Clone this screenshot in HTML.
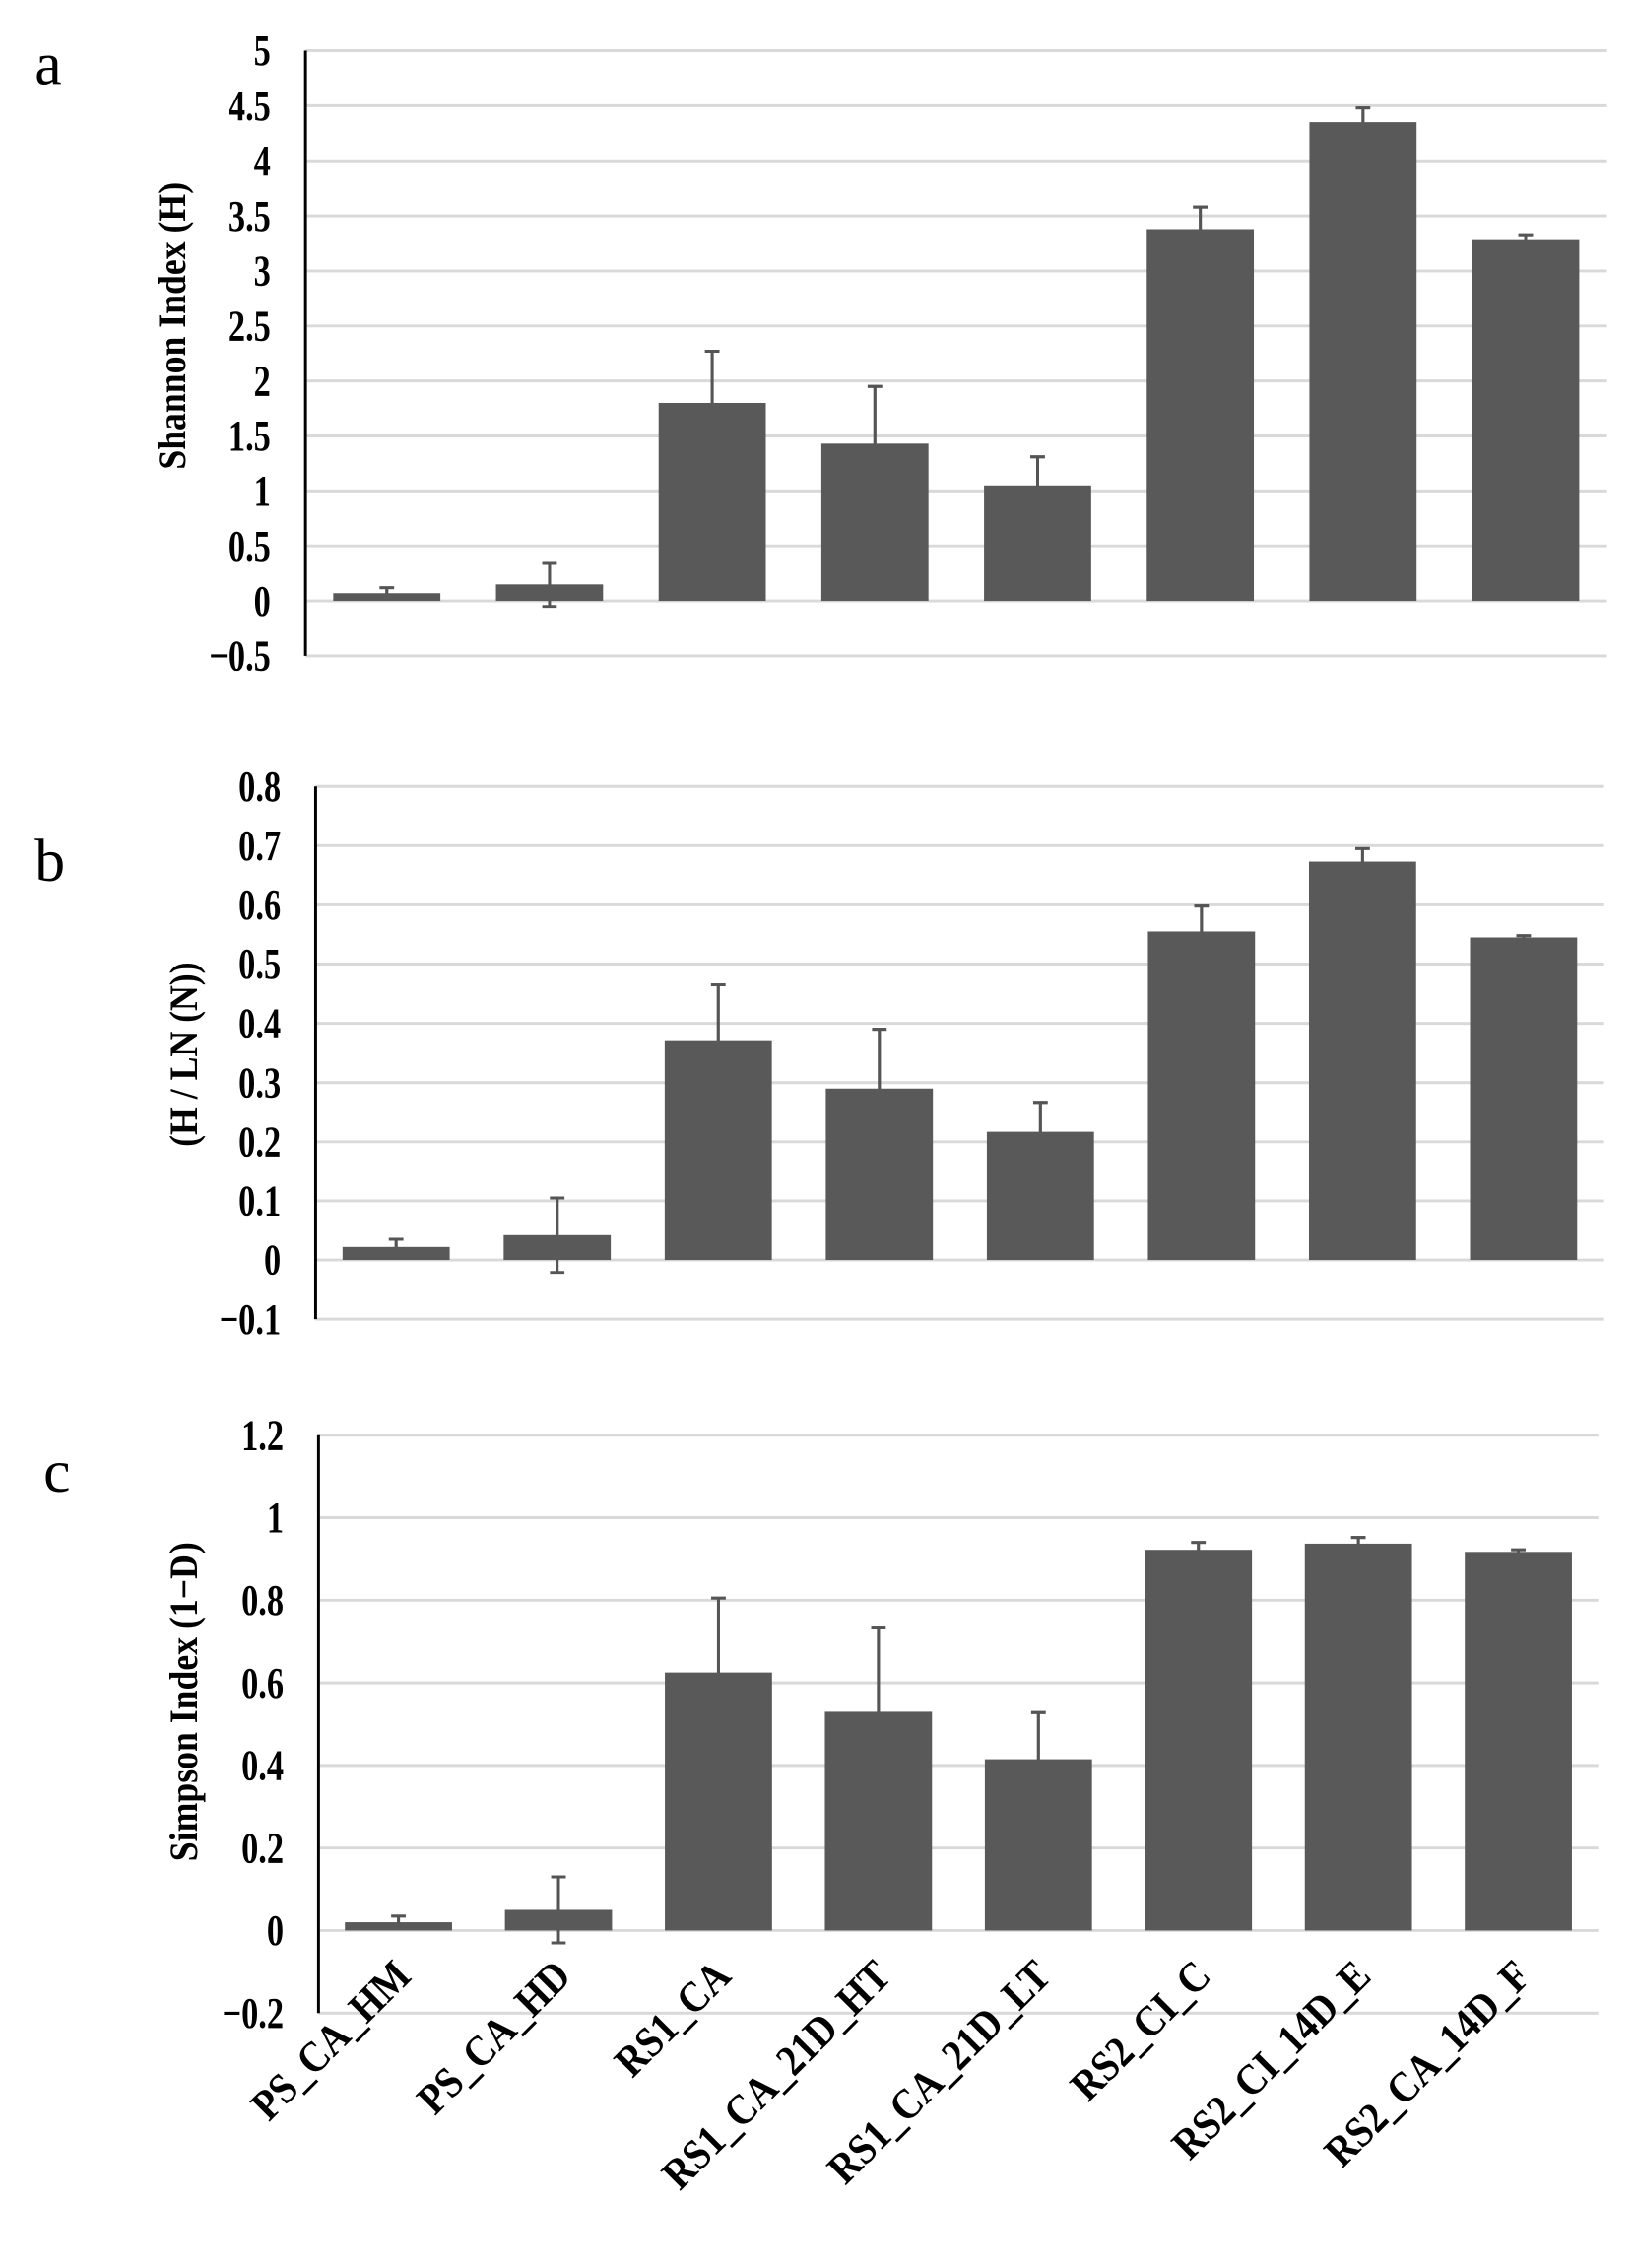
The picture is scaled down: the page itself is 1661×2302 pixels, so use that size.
<!DOCTYPE html>
<html><head><meta charset="utf-8"><style>
html,body{margin:0;padding:0;background:#fff}
svg{display:block}
text{font-family:"Liberation Serif",serif;font-weight:bold;fill:#000}
</style></head><body>
<svg id="fig" width="1661" height="2302" viewBox="0 0 1130 1566" xmlns="http://www.w3.org/2000/svg"></svg>
<script>
const categories = ["PS_CA_HM","PS_CA_HD","RS1_CA","RS1_CA_21D_HT","RS1_CA_21D_LT","RS2_CI_C","RS2_CI_14D_E","RS2_CA_14D_F"];
const shannonValues = [0.07,0.15,1.80,1.43,1.05,3.38,4.35,3.28];
const shannonErrors = [0.05,0.20,0.47,0.52,0.26,0.20,0.13,0.04];
const shannonTicks = [5,4.5,4,3.5,3,2.5,2,1.5,1,0.5,0,-0.5];
const evenValues = [0.022,0.042,0.370,0.290,0.217,0.555,0.673,0.545];
const evenErrors = [0.013,0.063,0.095,0.100,0.048,0.043,0.022,0.003];
const evenTicks = [0.8,0.7,0.6,0.5,0.4,0.3,0.2,0.1,0,-0.1];
const simpsonValues = [0.020,0.050,0.625,0.530,0.415,0.922,0.937,0.917];
const simpsonErrors = [0.015,0.080,0.180,0.205,0.113,0.018,0.015,0.005];
const simpsonTicks = [1.2,1,0.8,0.6,0.4,0.2,0,-0.2];

const svg = document.getElementById('fig');
const NS = 'http://www.w3.org/2000/svg';
function mk(tag, attrs, parent){const e=document.createElementNS(NS,tag);for(const k in attrs)e.setAttribute(k,attrs[k]);(parent||svg).appendChild(e);return e;}

function panel(cfg){
  const g = mk('g',{});
  
  
  const ymax=cfg.ticks[0], ymin=cfg.ticks[cfg.ticks.length-1];
  const y = v => cfg.yTop + (ymax - v)/(ymax - ymin)*(cfg.yBot - cfg.yTop);
  const x0=cfg.x0, x1=cfg.x1, step=(x1-x0)/categories.length;
  const xc = i => x0 + step*(i+0.5);
  cfg.ticks.forEach(t=>{
    const l=mk('line',{x1:x0,x2:x1,y1:y(t),y2:y(t),stroke:'#d9d9d9','stroke-width':2},g);
    
    
    const tx=mk('text',{x:0,y:0,'text-anchor':'end','font-size':30,transform:`translate(${x0-24},${y(t)+10}) scale(0.78,1)`},g);
    tx.textContent = (t<0?'\u2212'+Math.abs(t):String(t));
    
    
  });
  const ax=mk('line',{x1:x0,x2:x0,y1:cfg.yTop,y2:cfg.yBot,stroke:'#000','stroke-width':2},g);
  
  
  const bw=74;
  cfg.values.forEach((v,i)=>{
    const e=cfg.errors[i], cx=xc(i);
    const eb=mk('path',{d:`M${cx},${y(v+e)}V${y(v-e)}M${cx-5},${y(v+e)}H${cx+5}M${cx-5},${y(v-e)}H${cx+5}`,stroke:'#555','stroke-width':2,fill:'none'},g);
    
    
    const r=mk('rect',{x:cx-bw/2,y:Math.min(y(v),y(0)),width:bw,height:Math.abs(y(0)-y(v)),fill:'#595959'},g);
    
    
    const cap=mk('path',{d:`M${cx},${y(v+e)}V${y(v)}M${cx-5},${y(v+e)}H${cx+5}`,stroke:'#555','stroke-width':2},g);
    
    
  });
  const tt=mk('text',{x:0,y:0,'text-anchor':'middle','font-size':27,transform:`translate(${cfg.titleX},${cfg.titleY}) rotate(-90) scale(0.9,1)`},g);
  tt.textContent=cfg.title;
  
  
  const lt=mk('text',{x:cfg.letterX,y:cfg.letterY,'font-size':42,style:'font-weight:normal'},g);
  lt.textContent=cfg.letter;
  
  
  if(cfg.xlabels){
    categories.forEach((c,i)=>{
      const t=mk('text',{x:0,y:0,'text-anchor':'end','font-size':30,transform:`translate(${xc(i)+10},${cfg.yBot-24}) rotate(-45) scale(0.88,1)`},g);
      t.textContent=c;
      
      
    });
  }
}
panel({name:'panel-a-shannon',ticks:shannonTicks,values:shannonValues,errors:shannonErrors,yTop:35,yBot:453,x0:211,x1:1110,title:'Shannon Index (H)',titleX:128,titleY:225,letter:'a',letterX:24,letterY:58});
panel({name:'panel-b-evenness',ticks:evenTicks,values:evenValues,errors:evenErrors,yTop:543,yBot:911,x0:218,x1:1108,title:'(H / LN (N))',titleX:136,titleY:728,letter:'b',letterX:24,letterY:608});
panel({name:'panel-c-simpson',ticks:simpsonTicks,values:simpsonValues,errors:simpsonErrors,yTop:991,yBot:1390,x0:220,x1:1104,title:'Simpson Index (1\u2212D)',titleX:136,titleY:1175,letter:'c',letterX:30,letterY:1030,xlabels:true});
</script>
</body></html>
